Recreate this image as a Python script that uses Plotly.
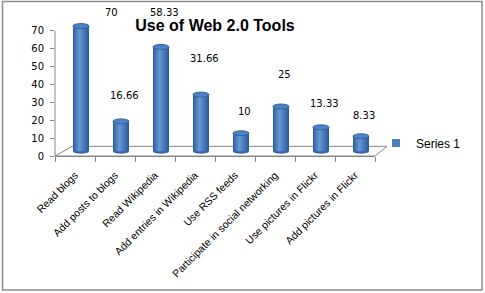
import plotly.graph_objects as go

# ---------------- data ----------------
categories = ["Read blogs", "Add posts to blogs", "Read Wikipedia",
              "Add entries in Wikipedia", "Use RSS feeds",
              "Participate in social networking", "Use pictures in Flickr",
              "Add pictures in Flickr"]
values = [70, 16.66, 58.33, 31.66, 10, 25, 13.33, 8.33]
value_labels = ["70", "16.66", "58.33", "31.66", "10", "25", "13.33", "8.33"]
y_ticks = [0, 10, 20, 30, 40, 50, 60, 70]
series_name = "Series 1"
title_text = "Use of Web 2.0 Tools"

# ---------------- layout constants ----------------
W, H = 485, 293
ML, MR, MT, MB = 55, 110, 22, 137
Y_MAX = 75
plot_w = W - ML - MR
plot_h = H - MT - MB

DEPTH_X = 0.15      # 3D shift of the cylinders (category units)
DEPTH_Y = 2.7       # 3D lift of the cylinders (value units)
BAR_W = 0.40
ELL_H = 1.4
GREY = "#868686"

fig = go.Figure()

# cylinder body: overlaid bars of decreasing width give a rounded shading
layers = [
    (0.40, 0.150, "#2F5E9B"),
    (0.33, 0.140, "#3B6DAD"),
    (0.25, 0.130, "#4779BB"),
    (0.16, 0.120, "#5387C6"),
    (0.08, 0.115, "#6494D0"),
]
for w, c, col in layers:
    fig.add_trace(go.Bar(
        x=categories, y=values, base=DEPTH_Y, width=w, offset=c - w / 2,
        marker=dict(color=col, line=dict(width=0)),
        showlegend=False, hoverinfo="skip", cliponaxis=False))

# legend entry
fig.add_trace(go.Scatter(
    x=[None], y=[None], mode="markers", name=series_name,
    marker=dict(symbol="square", size=8, color="#4A7EBB")))

shapes = []
# 3D floor
floor_back = 5.4
shapes.append(dict(
    type="path", xref="paper", yref="y", layer="below",
    path=f"M 0 0 L 1 0 L {1 + 12 / plot_w} {floor_back} "
         f"L {17 / plot_w} {floor_back} Z",
    fillcolor="white", line=dict(color=GREY, width=1)))
# y axis line (only up to 70)
shapes.append(dict(type="line", xref="paper", yref="y", x0=0, x1=0,
                   y0=0, y1=max(y_ticks), line=dict(color=GREY, width=1),
                   layer="below"))
# bottom and top ellipses of the cylinders
for i, v in enumerate(values):
    cx = i + DEPTH_X
    shapes.append(dict(type="circle", xref="x", yref="y", layer="below",
                       x0=cx - BAR_W / 2, x1=cx + BAR_W / 2,
                       y0=DEPTH_Y - ELL_H, y1=DEPTH_Y + ELL_H,
                       fillcolor="#3A69A6", line=dict(width=0)))
    shapes.append(dict(type="circle", xref="x", yref="y", layer="above",
                       x0=cx - BAR_W / 2, x1=cx + BAR_W / 2,
                       y0=v + DEPTH_Y - ELL_H, y1=v + DEPTH_Y + ELL_H,
                       fillcolor="#4F82C2", line=dict(color="#33639F", width=1)))
# chart border
shapes.append(dict(type="rect", xref="paper", yref="paper",
                   x0=(2.5 - ML) / plot_w, x1=(482 - ML) / plot_w,
                   y0=(H - MB - 290) / plot_h, y1=(H - MB - 1.5) / plot_h,
                   line=dict(color="#8C8C8C", width=1.5), layer="above"))

# data labels (Excel's 3D label placement, capped at top)
annotations = []
top_cap = 80.3
for i, (v, t) in enumerate(zip(values, value_labels)):
    ly = min(v * 1.37 + 11.3, top_cap)
    dx = 30 if v == max(values) else 3
    annotations.append(dict(
        x=i + DEPTH_X, xref="x", y=ly / Y_MAX, yref="paper",
        xanchor="center", yanchor="middle",
        text=t, showarrow=False, xshift=dx,
        font=dict(family="DejaVu Sans", size=10, color="black")))

fig.update_layout(
    width=W, height=H,
    margin=dict(l=ML, r=MR, t=MT, b=MB, pad=0),
    paper_bgcolor="white", plot_bgcolor="rgba(0,0,0,0)",
    barmode="overlay",
    title=dict(text=title_text, x=0.5, xref="paper", xanchor="center",
               y=1 - 25 / H, yref="container", yanchor="middle",
               font=dict(family="Liberation Sans", size=16, color="black",
                         weight="bold")),
    shapes=shapes, annotations=annotations,
    showlegend=True,
    legend=dict(x=(377 - ML - 1) / plot_w, xanchor="left",
                y=(H - MB - 143) / plot_h, yanchor="middle",
                font=dict(family="Liberation Sans", size=12, color="black"),
                bgcolor="rgba(0,0,0,0)", borderwidth=0),
    xaxis=dict(type="category", range=[-0.5, len(categories) - 0.5],
               showline=True, linecolor=GREY, linewidth=1,
               ticks="outside", ticklen=5, tickcolor=GREY, tickson="boundaries",
               tickangle=-45, showgrid=False, zeroline=False,
               ticklabelstandoff=8,
               tickfont=dict(family="Liberation Sans", size=10.5, color="black")),
    yaxis=dict(range=[0, Y_MAX], tickvals=y_ticks, showline=False,
               ticks="outside", ticklen=4, tickcolor=GREY,
               ticklabelstandoff=4, showgrid=False, zeroline=False,
               tickfont=dict(family="DejaVu Sans", size=10, color="black")),
)

fig.write_html("out.html", config={"displayModeBar": False},
               post_script="document.body.style.margin='0';"
                           "document.body.style.overflow='hidden';")
